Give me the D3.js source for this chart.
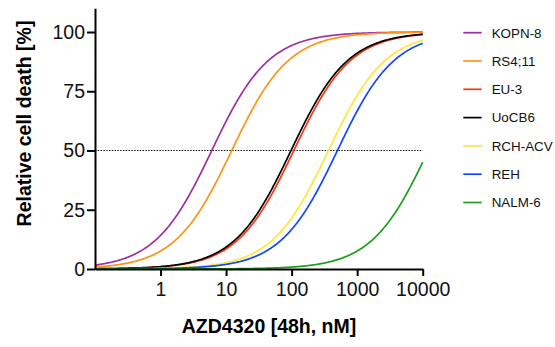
<!DOCTYPE html>
<html>
<head>
<meta charset="utf-8">
<script src="https://cdn.jsdelivr.net/npm/d3@7"></script>
<style>
  html, body { margin: 0; padding: 0; background: #fff; }
  svg { display: block; font-family: "Liberation Sans", Arial, sans-serif; }
</style>
</head>
<body>
<svg id="chart" width="555" height="347"></svg>
<script>
// ---- data (fitted dose–response parameters) ----
const cellLines = ["KOPN-8", "RS4;11", "EU-3", "UoCB6", "RCH-ACV", "REH", "NALM-6"];
const ec50      = [6.05, 12.2, 108, 98, 365, 500, 12200];   // nM
const hillSlope = [1, 1, 1, 1, 1, 1, 1];
const topPct    = [100, 100, 100, 100, 100, 100, 100];
const bottomPct = [0, 0, 0, 0, 0, 0, 0];
const colors    = ["#9b32a0", "#ff9414", "#ff3214", "#000000", "#ffe63c", "#1446ff", "#1e9e1e"];
const xTicks    = [1, 10, 100, 1000, 10000];
const yTicks    = [0, 25, 50, 75, 100];
const xDomain   = [0.1, 10000];
const yDomain   = [0, 110];
const refLine   = 50;
const xTitle    = "AZD4320 [48h, nM]";
const yTitle    = "Relative cell death [%]";

// ---- layout ----
const svg = d3.select("#chart");
const x = d3.scaleLog().domain(xDomain).range([95, 422.7]);
const y = d3.scaleLinear().domain(yDomain).range([269, 8.3]);

// reference dotted line
svg.append("line")
  .attr("x1", x(xDomain[0])).attr("x2", x(xDomain[1]))
  .attr("y1", y(refLine)).attr("y2", y(refLine))
  .attr("stroke", "#000").attr("stroke-width", 1.2)
  .attr("stroke-dasharray", "1.4,1.4");

// curves (4-parameter logistic model with the parameters above)
const samples = d3.range(0, 401).map(i => Math.pow(10, Math.log10(xDomain[0]) + i * (Math.log10(xDomain[1]) - Math.log10(xDomain[0])) / 400));
const line = d3.line().x(d => x(d[0])).y(d => y(d[1])).curve(d3.curveLinear);
cellLines.forEach((name, i) => {
  const pts = samples.map(c => [c, bottomPct[i] + (topPct[i] - bottomPct[i]) / (1 + Math.pow(ec50[i] / c, hillSlope[i]))]);
  svg.append("path")
    .datum(pts)
    .attr("d", line)
    .attr("fill", "none")
    .attr("stroke", colors[i])
    .attr("stroke-width", 1.7);
});

// axes
const xAxis = d3.axisBottom(x).tickValues(xTicks).tickFormat(d3.format("d"))
  .tickSize(7).tickSizeOuter(0).tickPadding(6);
const yAxis = d3.axisLeft(y).tickValues(yTicks).tickFormat(d3.format("d"))
  .tickSize(8).tickSizeOuter(0).tickPadding(2);

const gx = svg.append("g").attr("transform", `translate(0,${y(0)})`).call(xAxis);
const gy = svg.append("g").attr("transform", `translate(${x(xDomain[0])},0)`).call(yAxis);
[gx, gy].forEach(g => {
  g.select(".domain").attr("stroke", "#000").attr("stroke-width", 2);
  g.selectAll(".tick line").attr("stroke", "#000").attr("stroke-width", 2);
  g.selectAll(".tick text").attr("fill", "#111").style("font-size", "19.5px")
    .style("font-family", "'Liberation Sans', Arial, sans-serif");
});

// axis titles
svg.append("text")
  .attr("x", 269).attr("y", 333)
  .attr("text-anchor", "middle")
  .style("font-size", "19.5px").style("font-weight", "bold")
  .text(xTitle);
svg.append("text")
  .attr("transform", "translate(31,123.5) rotate(-90)")
  .attr("text-anchor", "middle")
  .style("font-size", "19.5px").style("font-weight", "bold")
  .text(yTitle);

// legend
const lg = svg.append("g");
cellLines.forEach((name, i) => {
  const yy = 32.7 + i * 28.3;
  lg.append("line").attr("x1", 463.3).attr("x2", 481.7).attr("y1", yy).attr("y2", yy)
    .attr("stroke", colors[i]).attr("stroke-width", 1.7);
  lg.append("text").attr("x", 491.7).attr("y", yy).attr("dy", "0.36em")
    .style("font-size", "13.4px").attr("fill", "#111").text(name);
});
</script>
</body>
</html>
